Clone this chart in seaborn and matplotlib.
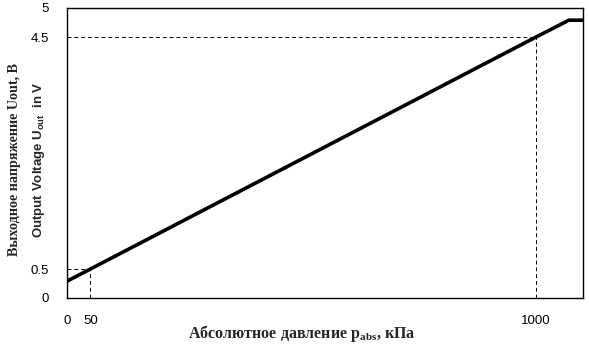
import matplotlib
matplotlib.use("Agg")
import matplotlib.pyplot as plt
import seaborn as sns
import pandas as pd

pressure_kpa = [0, 50, 1000, 1070, 1100]
voltage_v = [0.29, 0.5, 4.5, 4.79, 4.79]
ref_pressure = [50, 1000]
ref_voltage = [0.5, 4.5]
xticks = [0, 50, 1000]
yticks = [0, 0.5, 4.5, 5]

sns.set_theme(style="white")
plt.rcParams['font.family'] = ['Liberation Sans', 'DejaVu Sans']

df = pd.DataFrame({"p": pressure_kpa, "u": voltage_v})

fig = plt.figure(figsize=(5.89, 3.46), dpi=100)
ax = fig.add_axes([67/589, 48/346, 516/589, 290/346])

for p, u in zip(ref_pressure, ref_voltage):
    ax.plot([0, p], [u, u], color="black", lw=0.7, ls=(0, (4, 3)))
    ax.plot([p, p], [0, u], color="black", lw=0.7, ls=(0, (4, 3)))

sns.lineplot(data=df, x="p", y="u", ax=ax, color="black", lw=2.6)

ax.set_xlim(0, 1100)
ax.set_ylim(0, 5)
ax.set_xticks(xticks)
ax.set_xticklabels([str(v) for v in xticks])
ax.set_yticks(yticks)
ax.set_yticklabels([("%g" % v) for v in yticks])
ax.tick_params(axis="both", length=0, labelsize=9.5, colors="black")
ax.tick_params(axis="x", pad=12)
ax.tick_params(axis="y", pad=13)
ax.set_xlabel("")
ax.set_ylabel("")
for s in ax.spines.values():
    s.set_color("black")
    s.set_linewidth(1.0)

fig.text(302/589, 1 - 333/346, r"Абсолютное давление p$_{\mathregular{abs}}$, кПа",
         family=["Liberation Serif"], weight="bold", fontsize=11.5,
         ha="center", va="center")
fig.text(15/589, 1 - 160/346, "Выходное напряжение Uout, В",
         family=["Liberation Serif"], weight="bold", fontsize=10.2,
         rotation=90, ha="center", va="center")
fig.text(39/589, 1 - 160/346, r"Output Voltage U$_{\mathregular{out}}$  in V",
         family=["Liberation Sans"], weight="bold", fontsize=9.5,
         rotation=90, ha="center", va="center")

fig.savefig("out.png", dpi=100)
